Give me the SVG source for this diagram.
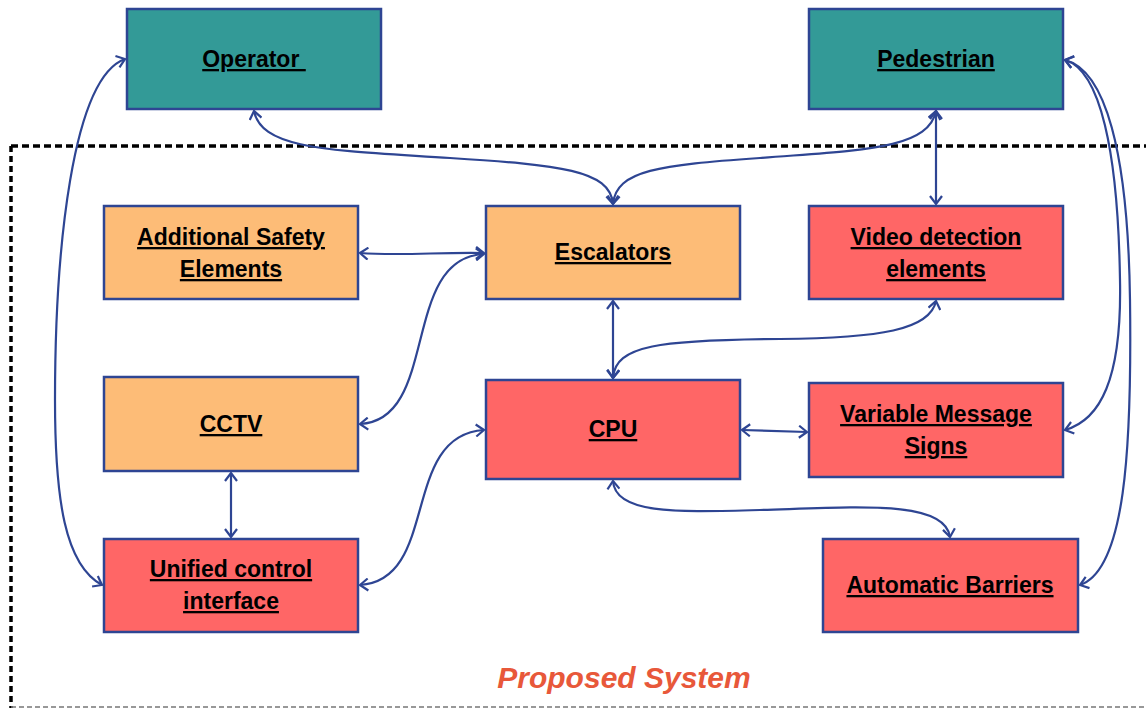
<svg xmlns="http://www.w3.org/2000/svg" width="1146" height="708" viewBox="0 0 1146 708">
<style>
.box{stroke:#2e4593;stroke-width:2.5}
.teal{fill:#339a97}
.org{fill:#fdbc77}
.red{fill:#ff6666}
.lbl{font-family:"Liberation Sans",Arial,sans-serif;font-weight:bold;font-size:23px;text-anchor:middle;text-decoration:underline;fill:#000}
.con{fill:none;stroke:#2e4593;stroke-width:2.2;marker-start:url(#ah);marker-end:url(#ah)}
.title{font-family:"Liberation Sans",Arial,sans-serif;font-weight:bold;font-style:italic;font-size:30px;text-anchor:middle;fill:#e8583a}
</style>
<defs>
<marker id="ah" viewBox="0 0 10 14" refX="9" refY="7" markerWidth="10" markerHeight="14" markerUnits="userSpaceOnUse" orient="auto-start-reverse">
<path d="M1,1 L9,7 L1,13" fill="none" stroke="#2e4593" stroke-width="2.2"/>
</marker>
</defs>
<rect width="1146" height="708" fill="#fff"/>
<g id="boundary">
<path d="M11,146 L1146,146" stroke="#000" stroke-width="3.5" stroke-dasharray="7 4" fill="none"/>
<path d="M11,146 L11,708" stroke="#000" stroke-width="3.5" stroke-dasharray="6 4" fill="none"/>
<path d="M11,707 L1146,707" stroke="#777" stroke-width="1.5" stroke-dasharray="5 3" fill="none"/>
<text class="title" x="624" y="688">Proposed System</text>
</g>
<g id="connectors">
<path class="con" d="M102,585 C65,565 55,500 55,400 C55,250 72,78 125,59"/>
<path class="con" d="M254,111 C262,150 330,150 450,158 C560,165 610,170 613,204"/>
<path class="con" d="M936,111 C928,150 860,150 760,158 C660,165 616,170 613,204"/>
<path class="con" d="M936,111 L936,204"/>
<path class="con" d="M1065,60 C1100,70 1118,150 1120,280 C1122,380 1100,420 1065,430"/>
<path class="con" d="M1065,60 C1105,70 1128,150 1130,300 C1132,450 1125,570 1080,585"/>
<path class="con" d="M360,253 C400,256 440,252 484,253"/>
<path class="con" d="M360,424 C440,420 400,258 484,254"/>
<path class="con" d="M613,301 L613,378"/>
<path class="con" d="M936,301 C930,330 880,338 780,339 C660,340 615,345 613,378"/>
<path class="con" d="M742,430 L807,432"/>
<path class="con" d="M613,481 C615,515 680,512 760,510 C860,507 945,500 950,537"/>
<path class="con" d="M231,473 L231,537"/>
<path class="con" d="M360,585 C440,580 400,435 484,430"/>
</g>
<g id="operator">
<rect class="box teal" x="127" y="9" width="254" height="100"/>
<text class="lbl" x="254" y="67" xml:space="preserve">Operator </text>
</g>
<g id="pedestrian">
<rect class="box teal" x="809" y="9" width="254" height="100"/>
<text class="lbl" x="936" y="67">Pedestrian</text>
</g>
<g id="additional-safety">
<rect class="box org" x="104" y="206" width="254" height="93"/>
<text class="lbl" x="231" y="245">Additional Safety</text>
<text class="lbl" x="231" y="277">Elements</text>
</g>
<g id="escalators">
<rect class="box org" x="486" y="206" width="254" height="93"/>
<text class="lbl" x="613" y="260">Escalators</text>
</g>
<g id="video-detection">
<rect class="box red" x="809" y="206" width="254" height="93"/>
<text class="lbl" x="936" y="245">Video detection</text>
<text class="lbl" x="936" y="277">elements</text>
</g>
<g id="cctv">
<rect class="box org" x="104" y="377" width="254" height="94"/>
<text class="lbl" x="231" y="432">CCTV</text>
</g>
<g id="cpu">
<rect class="box red" x="486" y="380" width="254" height="99"/>
<text class="lbl" x="613" y="437">CPU</text>
</g>
<g id="vms">
<rect class="box red" x="809" y="383" width="254" height="94"/>
<text class="lbl" x="936" y="422">Variable Message</text>
<text class="lbl" x="936" y="454">Signs</text>
</g>
<g id="unified-control">
<rect class="box red" x="104" y="539" width="254" height="93"/>
<text class="lbl" x="231" y="577">Unified control</text>
<text class="lbl" x="231" y="609">interface</text>
</g>
<g id="automatic-barriers">
<rect class="box red" x="823" y="539" width="255" height="93"/>
<text class="lbl" x="950" y="593">Automatic Barriers</text>
</g>
</svg>
